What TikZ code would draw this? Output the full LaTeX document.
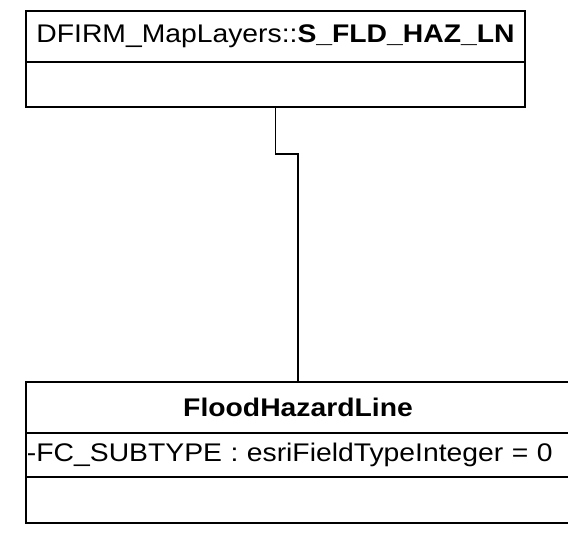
\documentclass[tikz,border=0pt]{standalone}
\usepackage{fontspec}
\setmainfont{Liberation Sans}[FakeStretch=1.11]
\usetikzlibrary{positioning}

\begin{document}
\begin{tikzpicture}[x=1pt,y=-1pt,node distance=0pt,
    classrow/.style={draw,line width=1.9pt,inner sep=0pt,outer sep=0pt,
      font=\fontsize{25.5}{30}\selectfont},
    linkline/.style={-,line width=1.9pt}]
  \useasboundingbox (0,0) rectangle (568,533);
  % DFIRM layer class
  \node[classrow,minimum width=499pt,minimum height=51pt] (hazln) at (275.5,36.5)
      {DFIRM\_MapLayers::\textbf{S\_FLD\_HAZ\_LN}};
  \node[classrow,minimum width=499pt,minimum height=45pt] (hazlnbody) [below=of hazln] {};
  % FloodHazardLine class
  \node[classrow,minimum width=544pt,minimum height=51pt] (flood) at (298,407.5)
      {\textbf{FloodHazardLine}};
  \node[classrow,minimum width=544pt,minimum height=44pt,text width=542pt,align=left]
      (floodattr) [below=of flood] {-FC\_SUBTYPE : esriFieldTypeInteger = 0};
  \node[classrow,minimum width=544pt,minimum height=46pt] (floodops) [below=of floodattr] {};

  \draw[linkline] (hazlnbody.south) -- ++(0,47) coordinate (bend) -| (flood.north);
\end{tikzpicture}
\end{document}
